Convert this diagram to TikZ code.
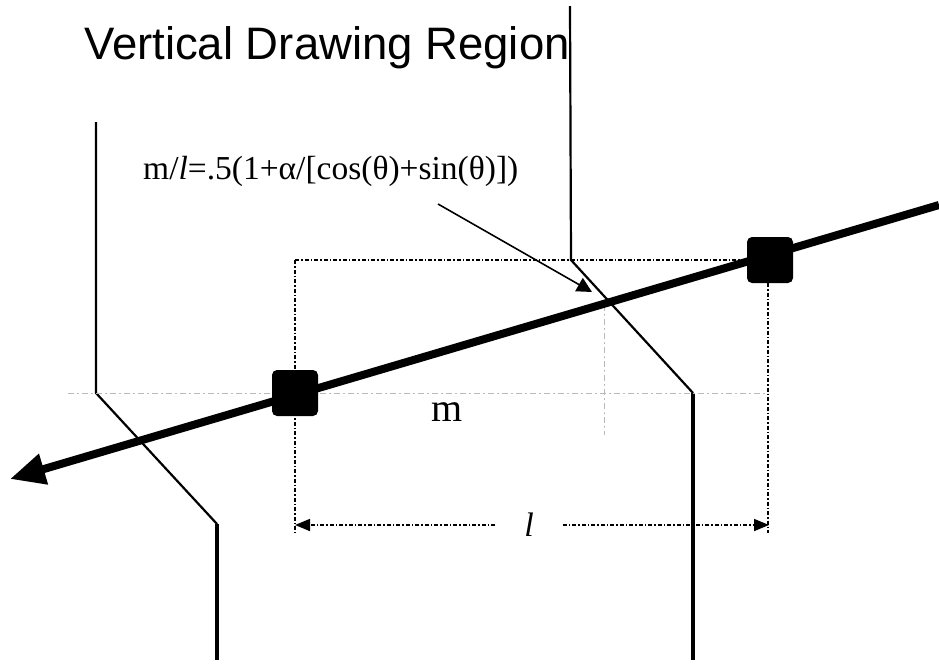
\documentclass[tikz,border=0pt]{standalone}
\usepackage{fontspec}
\setmainfont{Liberation Serif}
\newfontfamily\ttlfont{Liberation Sans}
\usetikzlibrary{positioning,arrows.meta,calc}

\begin{document}
\begin{tikzpicture}[x=1pt,y=-1pt]
  \tikzset{
    bnd/.style={line width=2.2pt},
    bndlow/.style={line width=4.5pt},
    guide/.style={gray!55, line width=1pt, dash pattern=on 6pt off 3pt on 2pt off 3pt},
    dimdot/.style={line width=1.6pt, dash pattern=on 4pt off 2pt on 1.5pt off 2pt},
    mainln/.style={line width=8pt, -{Triangle[length=35pt,width=30pt]}},
    sqr/.style={fill=black, rounded corners=5pt, minimum size=46pt, inner sep=0pt},
    lbl/.style={inner sep=0pt},
  }
  \useasboundingbox (0,0) rectangle (939,667);
  % region boundaries
  \coordinate (lt) at (96,122);
  \coordinate (lb1) at (96,393);
  \coordinate (lb2) at (217,524);
  \coordinate (lbot) at (217,660);
  \coordinate (rt) at (570,6);
  \coordinate (rb1) at (571,260);
  \coordinate (rb2) at (693,393);
  \coordinate (rbot) at (693,660);
  \draw[bnd] (lt) -- (lb1) -- (lb2);
  \draw[bndlow] (lb2) -- (lbot);
  \draw[bnd] (rt) -- (rb1) -- (rb2);
  \draw[bndlow] (rb2) -- (rbot);
  % light guide lines
  \draw[guide] (68,393) -- (768,393);
  \draw[guide] (604,305) -- (604,435);
  % points on the line
  \node[sqr] (pa) at (295,393) {};
  \node[sqr] (pb) at (770,260) {};
  % dotted box and dimension
  \draw[dimdot] (295,260) -- (pb.west |- 0,260);
  \draw[dimdot] (295,260) -- (295,533);
  \draw[dimdot] (pb.south -| 768,0) -- (768,533);
  \coordinate (dl) at (295,525);
  \coordinate (dr) at (769,525);
  \node[lbl, inner xsep=29pt, font=\fontsize{34}{38}\selectfont\itshape] (llbl) at (529,525) {l};
  \draw[dimdot, -{Triangle[length=15pt,width=12pt]}] (llbl.west) -- (dl);
  \draw[dimdot, -{Triangle[length=15pt,width=12pt]}] (llbl.east) -- (dr);
  \node[lbl, font=\fontsize{40}{44}\selectfont] (mlbl) at (447,412) {m};
  % main line
  \coordinate (ln0) at (939,205);
  \coordinate (ln1) at (10,479);
  \draw[mainln] (ln0) -- (ln1);
  % texts
  \node[lbl, anchor=base west, font=\ttlfont\fontsize{45.5}{50}\selectfont] (ttl) at (84,59) {Vertical Drawing Region};
  \node[lbl, anchor=base west, font=\fontsize{33.5}{38}\selectfont] (fml) at (143,179) {m/\textit{l}=.5(1+α/[cos(θ)+sin(θ)])};
  \coordinate (lead0) at (438,204);
  \coordinate (lead1) at (592,292);
  \draw[line width=1.6pt, -{Triangle[length=15pt,width=15pt]}] (lead0) -- (lead1);
\end{tikzpicture}
\end{document}
